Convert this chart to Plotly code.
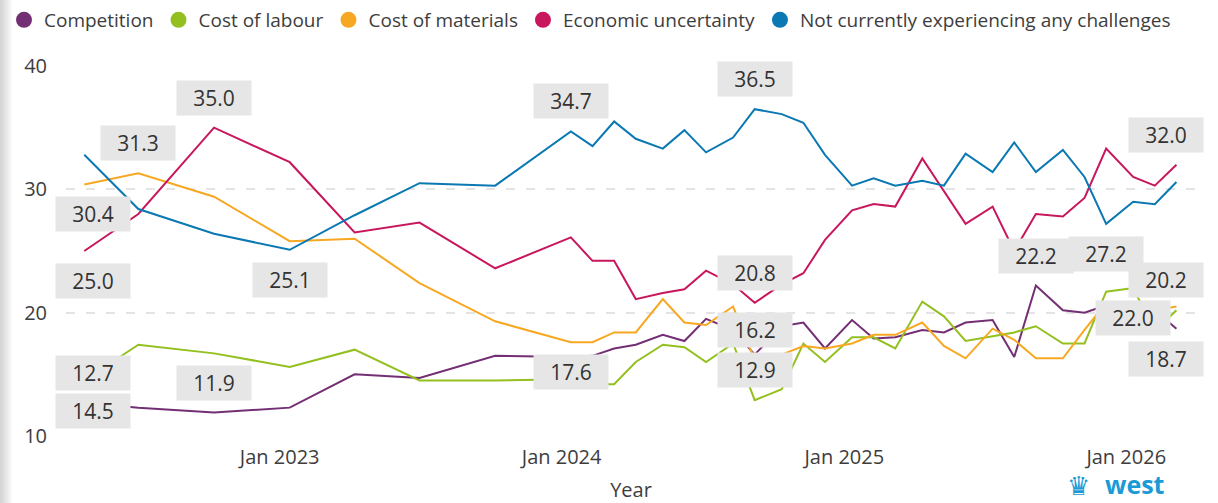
import plotly.graph_objects as go

# ---------------- data ----------------
dates = ["2022-04-23", "2022-07-02", "2022-10-08", "2023-01-14", "2023-04-08", "2023-07-01",
         "2023-10-07", "2024-01-13", "2024-02-10", "2024-03-09", "2024-04-06", "2024-05-11",
         "2024-06-08", "2024-07-06", "2024-08-10", "2024-09-07", "2024-10-12", "2024-11-09",
         "2024-12-07", "2025-01-11", "2025-02-08", "2025-03-08", "2025-04-12", "2025-05-10",
         "2025-06-07", "2025-07-12", "2025-08-09", "2025-09-06", "2025-10-11", "2025-11-08",
         "2025-12-06", "2026-01-10", "2026-02-07", "2026-03-07"]

competition = [12.7, 12.3, 11.9, 12.3, 15.0, 14.7, 16.5, 16.4, 16.5, 17.1, 17.4, 18.2,
               17.7, 19.5, 18.6, 16.6, 18.9, 19.2, 17.1, 19.4, 17.9, 18.0, 18.6, 18.4,
               19.2, 19.4, 16.4, 22.2, 20.2, 20.0, 20.6, 20.3, 20.2, 18.7]

cost_of_labour = [14.5, 17.4, 16.7, 15.6, 17.0, 14.5, 14.5, 14.6, 14.2, 14.2, 16.0, 17.4,
                  17.2, 16.0, 17.5, 12.9, 13.8, 17.5, 16.0, 18.0, 18.0, 17.1, 20.9, 19.7,
                  17.7, 18.1, 18.4, 18.9, 17.5, 17.5, 21.7, 22.0, 18.5, 20.2]

cost_of_materials = [30.4, 31.3, 29.4, 25.8, 26.0, 22.4, 19.3, 17.6, 17.6, 18.4, 18.4, 21.1,
                     19.2, 19.0, 20.5, 16.2, 16.6, 17.3, 17.1, 17.5, 18.2, 18.2, 19.2, 17.3,
                     16.3, 18.7, 17.8, 16.3, 16.3, 18.6, 20.8, 20.5, 20.2, 20.5]

economic_uncertainty = [25.0, 28.0, 35.0, 32.2, 26.5, 27.3, 23.6, 26.1, 24.2, 24.2, 21.1, 21.6,
                        21.9, 23.4, 22.3, 20.8, 22.3, 23.2, 25.9, 28.3, 28.8, 28.6, 32.5, 29.9,
                        27.2, 28.6, 25.0, 28.0, 27.8, 29.3, 33.3, 31.0, 30.3, 32.0]

no_challenges = [32.8, 28.4, 26.4, 25.1, 27.9, 30.5, 30.3, 34.7, 33.5, 35.5, 34.1, 33.3,
                 34.8, 33.0, 34.2, 36.5, 36.1, 35.4, 32.8, 30.3, 30.9, 30.3, 30.7, 30.3,
                 32.9, 31.4, 33.8, 31.4, 33.2, 31.0, 27.2, 29.0, 28.8, 30.6]

series_names = ["Competition", "Cost of labour", "Cost of materials",
                "Economic uncertainty", "Not currently experiencing any challenges"]
series_values = [competition, cost_of_labour, cost_of_materials,
                 economic_uncertainty, no_challenges]
series_colors = ["#742F74", "#93C01F", "#F7A823", "#C8175D", "#0A78B2"]

tick_dates = ["2023-01-01", "2024-01-01", "2025-01-01", "2026-01-01"]

# data labels: (series index, point index, side: +1 above / -1 below)
data_labels = [
    (0, 0, 1), (0, 2, 1), (0, 27, 1), (0, 33, -1),
    (1, 0, -1), (1, 15, 1), (1, 31, -1), (1, 33, 1),
    (2, 0, -1), (2, 1, 1), (2, 7, -1), (2, 15, 1),
    (3, 0, -1), (3, 2, 1), (3, 15, 1), (3, 33, 1),
    (4, 3, -1), (4, 7, 1), (4, 15, 1), (4, 30, -1),
]

FONT = "Open Sans, Noto Sans, sans-serif"
TXT = "#3d3d3d"

fig = go.Figure()

for name, vals, col in zip(series_names, series_values, series_colors):
    fig.add_trace(go.Scatter(x=dates, y=vals, mode="lines", name=name,
                             line=dict(color=col, width=2), showlegend=False,
                             hoverinfo="skip"))

for name, col in zip(series_names, series_colors):
    fig.add_trace(go.Scatter(x=[None], y=[None], mode="markers", name=name,
                             marker=dict(color=col, size=16), showlegend=True))

n = len(dates)
for si, pi, side in data_labels:
    v = series_values[si][pi]
    dx = 9 if pi == 0 else (-10 if pi == n - 1 else 0)
    fig.add_annotation(x=dates[pi], y=v, xref="x", yref="y", text=f"{v:.1f}",
                       showarrow=False, xshift=dx, yshift=30 * side,
                       width=74, height=34, bgcolor="#E6E6E6", borderpad=0,
                       font=dict(family=FONT, size=21, color="#333333"))

# left panel shadow
shade = ["#d6d6d6", "#dcdcdc", "#e3e3e3", "#eaeaea", "#f1f1f1", "#f8f8f8"]
for k, c in enumerate(shade):
    fig.add_shape(type="rect", xref="paper", yref="paper",
                  x0=(-66 + 2 * k) / 1130, x1=(-66 + 2 * k + 2) / 1130,
                  y0=-67 / 370, y1=1 + 66 / 370, fillcolor=c, line=dict(width=0),
                  layer="below")

# logo
fig.add_annotation(xref="paper", yref="paper", x=(1103 - 66) / 1130, y=(436 - 503) / 370,
                   xanchor="left", yanchor="bottom", text="<b>west</b>", showarrow=False,
                   font=dict(family=FONT, size=25, color="#1A9AD6"))
fig.add_annotation(xref="paper", yref="paper", x=(1078 - 66) / 1130, y=(436 - 503) / 370,
                   xanchor="center", yanchor="bottom", text="♛", showarrow=False,
                   font=dict(family="DejaVu Sans", size=26, color="#1A9AD6"))

fig.update_layout(
    width=1218, height=503,
    margin=dict(l=66, r=22, t=66, b=67, autoexpand=False),
    paper_bgcolor="white", plot_bgcolor="white",
    font=dict(family=FONT, color=TXT),
    legend=dict(orientation="h", x=-62 / 1130, xanchor="left",
                y=1 + 46 / 370, yanchor="middle",
                font=dict(family=FONT, size=19, color=TXT),
                bgcolor="rgba(0,0,0,0)", itemclick=False, itemdoubleclick=False),
    xaxis=dict(type="date", range=["2022-03-30 08:00", "2026-04-01 08:00"],
               tickvals=tick_dates, tickformat="%b %Y", showgrid=False,
               zeroline=False, showline=False, ticks="", automargin=False,
               ticklabelstandoff=7,
               tickfont=dict(family=FONT, size=20, color=TXT),
               title=dict(text="Year", standoff=20,
                          font=dict(family=FONT, size=20, color=TXT))),
    yaxis=dict(range=[10, 40], tickvals=[10, 20, 30, 40], showgrid=True,
               gridcolor="#E4E4E4", gridwidth=2, griddash="9px,11px",
               zeroline=False, showline=False, ticks="", automargin=False,
               ticklabelstandoff=18,
               tickfont=dict(family=FONT, size=20, color=TXT)),
)

fig.write_html("out.html", config={"displayModeBar": False},
               post_script="document.body.style.margin='0';")
